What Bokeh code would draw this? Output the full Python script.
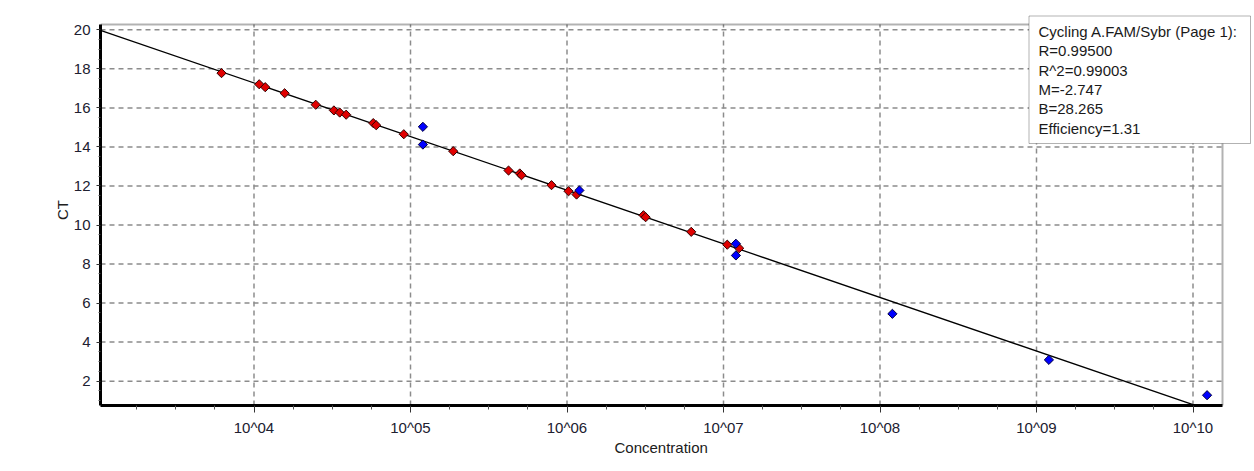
import numpy as np
from bokeh.plotting import figure
from bokeh.models import FixedTicker, Range1d, BoxAnnotation, Label, Title
from bokeh.embed import file_html
from bokeh.resources import INLINE

# ---- data ----
red_conc = [6.2e3, 1.08e4, 1.18e4, 1.57e4, 2.48e4, 3.24e4, 3.53e4, 3.88e4, 5.78e4, 6.04e4,
            9.06e4, 1.875e5, 4.23e5, 4.99e5, 5.12e5, 7.96e5, 1.023e6, 1.151e6, 3.08e6, 3.18e6,
            6.22e6, 1.057e7, 1.259e7]
red_ct = [17.78, 17.21, 17.06, 16.75, 16.16, 15.87, 15.76, 15.65, 15.22, 15.11,
          14.65, 13.78, 12.79, 12.64, 12.55, 12.04, 11.73, 11.56, 10.50, 10.40,
          9.65, 8.99, 8.81]
blue_conc = [1.2e5, 1.2e5, 1.2e6, 1.2e7, 1.2e7, 1.2e8, 1.2e9, 1.23e10]
blue_ct = [15.03, 14.12, 11.77, 9.04, 8.44, 5.45, 3.09, 1.28]

fit_m = -2.747
fit_b = 28.265
stats_lines = ["Cycling A.FAM/Sybr (Page 1):", "R=0.99500", "R^2=0.99003",
               "M=-2.747", "B=28.265", "Efficiency=1.31"]
x_major = [4, 5, 6, 7, 8, 9, 10]
x_labels = ["10^04", "10^05", "10^06", "10^07", "10^08", "10^09", "10^10"]
y_major = [2, 4, 6, 8, 10, 12, 14, 16, 18, 20]

FONT = "Liberation Sans"

# layout helpers (pixel -> data), frame spans x 100..1252, y 14..405
def px_to_x(px):
    return 4 + (px - 253.5) / 156.5

def py_to_y(py):
    return 20 - (py - 29.3) / 19.52

# visible plot box
x0, x1 = px_to_x(100), px_to_x(1222)
y0, y1 = py_to_y(405), py_to_y(24)

p = figure(width=1254, height=471, output_backend="svg", toolbar_location=None,
           x_range=Range1d(px_to_x(100), px_to_x(1252)),
           y_range=Range1d(py_to_y(405), py_to_y(14)),
           min_border_left=100, min_border_right=2, min_border_top=14, min_border_bottom=66)
p.background_fill_color = "white"
p.border_fill_color = "white"
p.outline_line_color = None
p.grid.visible = False

# ticks
minor_x = [v for v in np.arange(3.25, 10.2, 0.25) if abs(v - round(v)) > 1e-9]
minor_y = [v for v in np.arange(1.0, 20.01, 0.5) if abs(v % 2) > 1e-9]
p.xaxis.ticker = FixedTicker(ticks=x_major, minor_ticks=minor_x)
p.yaxis.ticker = FixedTicker(ticks=y_major, minor_ticks=minor_y)
p.xaxis.major_label_overrides = {t: l for t, l in zip(x_major, x_labels)}
p.xaxis.bounds = (x0, x1)
p.yaxis.bounds = (y0, y1)

for ax in (p.xaxis, p.yaxis):
    ax.axis_line_width = 3
    ax.axis_line_color = "black"
    ax.major_tick_line_color = "#333333"
    ax.minor_tick_line_color = "#555555"
    ax.major_tick_in = 0
    ax.minor_tick_in = 0
    ax.major_label_text_font = FONT
    ax.major_label_text_font_size = "15px"
    ax.major_label_text_color = "#202030"

p.xaxis.major_tick_out = 7
p.xaxis.minor_tick_out = 4
p.xaxis.major_label_standoff = 6
p.yaxis.major_tick_out = 4
p.yaxis.minor_tick_out = 2
p.yaxis.major_label_standoff = 6

# axis titles
title_style = dict(text_font=FONT, text_font_size="15px", text_font_style="normal",
                   text_color="#202020")
p.add_layout(Title(text="Concentration", align="left", offset=514, standoff=-4, **title_style), "below")
p.add_layout(Title(text="CT", align="center", standoff=0, **title_style), "left")

# dashed grid, limited to the plot box
grid_style = dict(line_color="#8c8c8c", line_dash="5 4", line_width=1.5)
p.segment(x0=[x0] * len(y_major), y0=y_major, x1=[x1] * len(y_major), y1=y_major, **grid_style)
p.segment(x0=x_major, y0=[y0] * len(x_major), x1=x_major, y1=[y1] * len(x_major), **grid_style)

# plot border (top/right)
p.add_layout(BoxAnnotation(left=x0, right=x1, bottom=y0, top=y1, fill_alpha=0,
                           line_color="black", line_width=2, level="annotation"))

# fit line
lx = np.array([x0, 10.0])
p.line(lx, fit_m * lx + fit_b, line_color="black", line_width=1.3)

# points
p.scatter(np.log10(red_conc), red_ct, marker="square", angle=np.pi / 4, size=6.5,
          fill_color="#e00000", line_color="#300000", line_width=1)
p.scatter(np.log10(blue_conc), blue_ct, marker="square", angle=np.pi / 4, size=6.5,
          fill_color="#0000ff", line_color="#000040", line_width=1)

# stats box
box = BoxAnnotation(left=px_to_x(1028.5), right=px_to_x(1250), top=py_to_y(15.5), bottom=py_to_y(143),
                    fill_color="white", fill_alpha=1.0, line_color="black", line_width=1,
                    level="overlay")
p.add_layout(box)
for i, t in enumerate(stats_lines):
    p.add_layout(Label(x=px_to_x(1038), y=py_to_y(31 + 19.3 * i), text=t,
                       text_font=FONT, text_font_size="15px", text_color="#1a1a1a",
                       text_baseline="middle", text_align="left", level="overlay"))

open("out.html", "w").write(file_html(p, INLINE))
